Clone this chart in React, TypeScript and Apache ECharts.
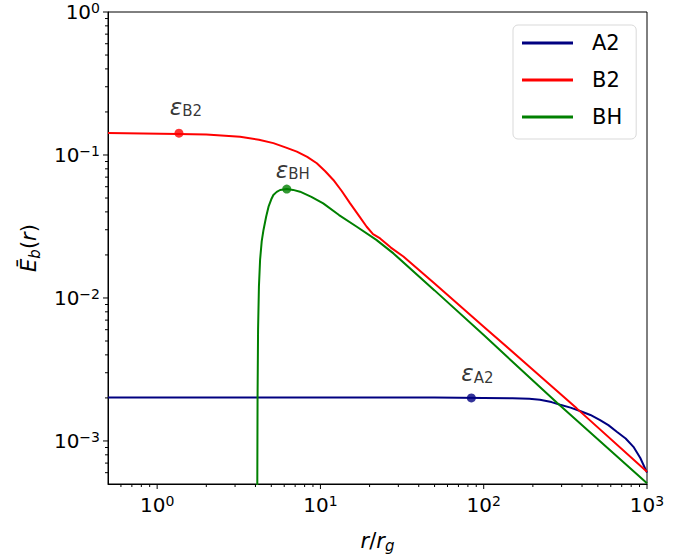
import React, { useEffect, useRef } from "react";
import * as echarts from "echarts";

// ---- data ----
const a2R = [0.5, 10, 50, 100, 150, 190, 221, 260, 294, 340, 389, 450, 516, 580, 653, 740, 826, 910, 1000];
const a2E = [2.01e-3, 2.01e-3, 2.01e-3, 2.0e-3, 1.99e-3, 1.97e-3, 1.94e-3, 1.87e-3, 1.79e-3, 1.71e-3, 1.62e-3, 1.52e-3, 1.4e-3, 1.29e-3, 1.16e-3, 1.04e-3, 9.1e-4, 7.6e-4, 6.0e-4];

const b2R = [0.5, 1.35, 2.0, 3.22, 4.2, 5.15, 6.1, 7.17, 8.3, 9.5, 10.7, 12.0, 13.5, 15.2, 17.1, 19.2, 21, 23.2, 27, 32.2, 50, 100, 200, 371, 1000];
const b2E = [0.1425, 0.14, 0.139, 0.134, 0.128, 0.121, 0.113, 0.1055, 0.097, 0.0875, 0.077, 0.0669, 0.056, 0.0459, 0.038, 0.0315, 0.028, 0.0261, 0.0225, 0.0195, 0.0126, 6.3e-3, 3.15e-3, 1.69e-3, 6.1e-4];

const bhR = [4.1, 4.12, 4.15, 4.2, 4.27, 4.37, 4.48, 4.65, 4.81, 5.0, 5.15, 5.4, 5.66, 6.22, 6.8, 7.5, 8.8, 10.4, 13, 16.7, 22, 28, 50, 100, 281, 1000];
const bhE = [3e-4, 2e-3, 6e-3, 0.012, 0.0185, 0.025, 0.0299, 0.037, 0.0435, 0.049, 0.0525, 0.0552, 0.0569, 0.0578, 0.057, 0.0554, 0.051, 0.0459, 0.038, 0.0315, 0.0255, 0.0205, 0.0113, 5.5e-3, 1.85e-3, 5.06e-4];

const epsNames = ["A2", "B2", "BH"];
const epsR = [84, 1.36, 6.22];
const epsE = [2.0e-3, 0.142, 0.0578];

const xMajor = [1, 10, 100, 1000];
const xMinor = [0.6, 0.7, 0.8, 0.9, 2, 3, 4, 5, 6, 7, 8, 9, 20, 30, 40, 50, 60, 70, 80, 90, 200, 300, 400, 500, 600, 700, 800, 900];
const yMajor = [1e-3, 1e-2, 1e-1, 1];
const yMinor = [6e-4, 7e-4, 8e-4, 9e-4, 2e-3, 3e-3, 4e-3, 5e-3, 6e-3, 7e-3, 8e-3, 9e-3, 0.02, 0.03, 0.04, 0.05, 0.06, 0.07, 0.08, 0.09, 0.2, 0.3, 0.4, 0.5, 0.6, 0.7, 0.8, 0.9];

const X_MIN = 0.5;
const X_MAX = 1000;
const Y_MIN = 5e-4;
const Y_MAX = 1;

const FONT = "DejaVu Sans";
const colors = ["#000080", "#ff0000", "#008000"];

function isMajor(v: number, majors: number[]) {
  return majors.some((m) => Math.abs(Math.log10(v) - Math.log10(m)) < 1e-6);
}
function powLabel(v: number) {
  const k = Math.round(Math.log10(v));
  return `{b|10}{s|${k < 0 ? "\u2212" + -k : k}}`;
}

const tickRich = {
  b: { fontSize: 20, lineHeight: 22, fontFamily: FONT, color: "#000" },
  s: { fontSize: 14, lineHeight: 12, verticalAlign: "top", fontFamily: FONT, color: "#000" },
};

export default function App() {
  const ref = useRef<HTMLDivElement>(null);
  useEffect(() => {
    if (!ref.current) return;
    const chart = echarts.init(ref.current, undefined, { renderer: "svg" });

    const tickSeries = (vals: number[], axis: "x" | "y", len: number) => ({
      type: "custom",
      silent: true,
      clip: false,
      z: 5,
      data: vals.map((v) => (axis === "x" ? [v, Y_MIN] : [X_MIN, v])),
      renderItem: (_p: any, api: any) => {
        const pt = api.coord([api.value(0), api.value(1)]);
        return {
          type: "line",
          shape:
            axis === "x"
              ? { x1: pt[0], y1: pt[1], x2: pt[0], y2: pt[1] + len }
              : { x1: pt[0], y1: pt[1], x2: pt[0] - len, y2: pt[1] },
          style: { stroke: "#000", lineWidth: 1 },
        };
      },
    });

    const lineSeries = (name: string, rs: number[], es: number[], color: string) => ({
      name,
      type: "line",
      symbol: "none",
      smooth: false,
      color,
      lineStyle: { color, width: 2 },
      data: rs.map((r, i) => [r, es[i]]),
      z: 3,
    });

    chart.setOption({
      animation: false,
      backgroundColor: "#fff",
      grid: {
        left: 108,
        top: 12,
        width: 539,
        height: 472,
        show: true,
        borderColor: "#000",
        borderWidth: 1,
        outerBoundsMode: "none",
      },
      legend: {
        data: epsNames,
        orient: "vertical",
        left: 513,
        top: 25,
        icon: "rect",
        itemWidth: 51,
        itemHeight: 3,
        itemGap: 13,
        padding: [6, 14, 10, 9],
        borderColor: "#d9d9d9",
        borderWidth: 1,
        borderRadius: 5,
        backgroundColor: "rgba(255,255,255,0.8)",
        textStyle: { fontFamily: FONT, fontSize: 21, color: "#000", lineHeight: 24, padding: [0, 0, 0, 14] },
      },
      xAxis: {
        type: "log",
        logBase: 10,
        min: X_MIN,
        max: X_MAX,
        splitLine: { show: false },
        axisTick: { show: false },
        minorTick: { show: false },
        axisLine: { show: true, lineStyle: { color: "#000", width: 1 } },
        axisLabel: {
          margin: 10,
          formatter: (v: number) => (isMajor(v, xMajor) ? powLabel(v) : ""),
          rich: tickRich,
        },
        name: "{i|r}{n|/}{i|r}{g|g}",
        nameLocation: "middle",
        nameGap: 45,
        nameTextStyle: {
          rich: {
            i: { fontSize: 21, fontFamily: FONT, fontStyle: "italic", color: "#000", lineHeight: 24 },
            n: { fontSize: 21, fontFamily: FONT, color: "#000", lineHeight: 24 },
            g: { fontSize: 15, fontFamily: FONT, fontStyle: "italic", color: "#000", lineHeight: 14, verticalAlign: "bottom" },
          },
        },
      },
      yAxis: {
        type: "log",
        logBase: 10,
        min: Y_MIN,
        max: Y_MAX,
        splitLine: { show: false },
        axisTick: { show: false },
        minorTick: { show: false },
        axisLine: { show: true, lineStyle: { color: "#000", width: 1 } },
        axisLabel: {
          margin: 8,
          formatter: (v: number) => (isMajor(v, yMajor) ? powLabel(v) : ""),
          rich: tickRich,
        },
        name: "{i|\u0112}{b|b}{n|(}{i|r}{n|)}",
        nameLocation: "middle",
        nameRotate: 90,
        nameGap: 66,
        nameTextStyle: {
          rich: {
            i: { fontSize: 21, fontFamily: FONT, fontStyle: "italic", color: "#000", lineHeight: 26 },
            n: { fontSize: 21, fontFamily: FONT, color: "#000", lineHeight: 26 },
            b: { fontSize: 15, fontFamily: FONT, fontStyle: "italic", color: "#000", lineHeight: 14, verticalAlign: "bottom" },
          },
        },
      },
      series: [
        lineSeries("A2", a2R, a2E, colors[0]),
        lineSeries("B2", b2R, b2E, colors[1]),
        lineSeries("BH", bhR, bhE, colors[2]),
        {
          name: "eps",
          type: "scatter",
          symbol: "circle",
          symbolSize: 9,
          z: 4,
          data: epsNames.map((n, i) => ({
            value: [epsR[i], epsE[i]],
            itemStyle: { color: colors[i] },
            label: { offset: i === 0 ? [6, -4] : i === 1 ? [7, -6] : [6, 1] },
          })),
          label: {
            show: true,
            position: "top",
            distance: 4,
            formatter: (p: any) => `{e|\u03B5}{s|${epsNames[p.dataIndex]}}`,
            rich: {
              e: { fontSize: 23, fontFamily: FONT, fontStyle: "italic", color: "#000", lineHeight: 24 },
              s: { fontSize: 15, fontFamily: FONT, color: "#000", lineHeight: 14, verticalAlign: "bottom" },
            },
          },
        },
        tickSeries(xMajor, "x", 5),
        tickSeries(xMinor, "x", 3),
        tickSeries(yMajor, "y", 5),
        tickSeries(yMinor, "y", 3),
      ],
    } as any);

    return () => chart.dispose();
  }, []);

  return (
    <div
      ref={ref}
      style={{ position: "fixed", left: 0, top: 0, width: 692, height: 557, background: "#fff" }}
    />
  );
}
